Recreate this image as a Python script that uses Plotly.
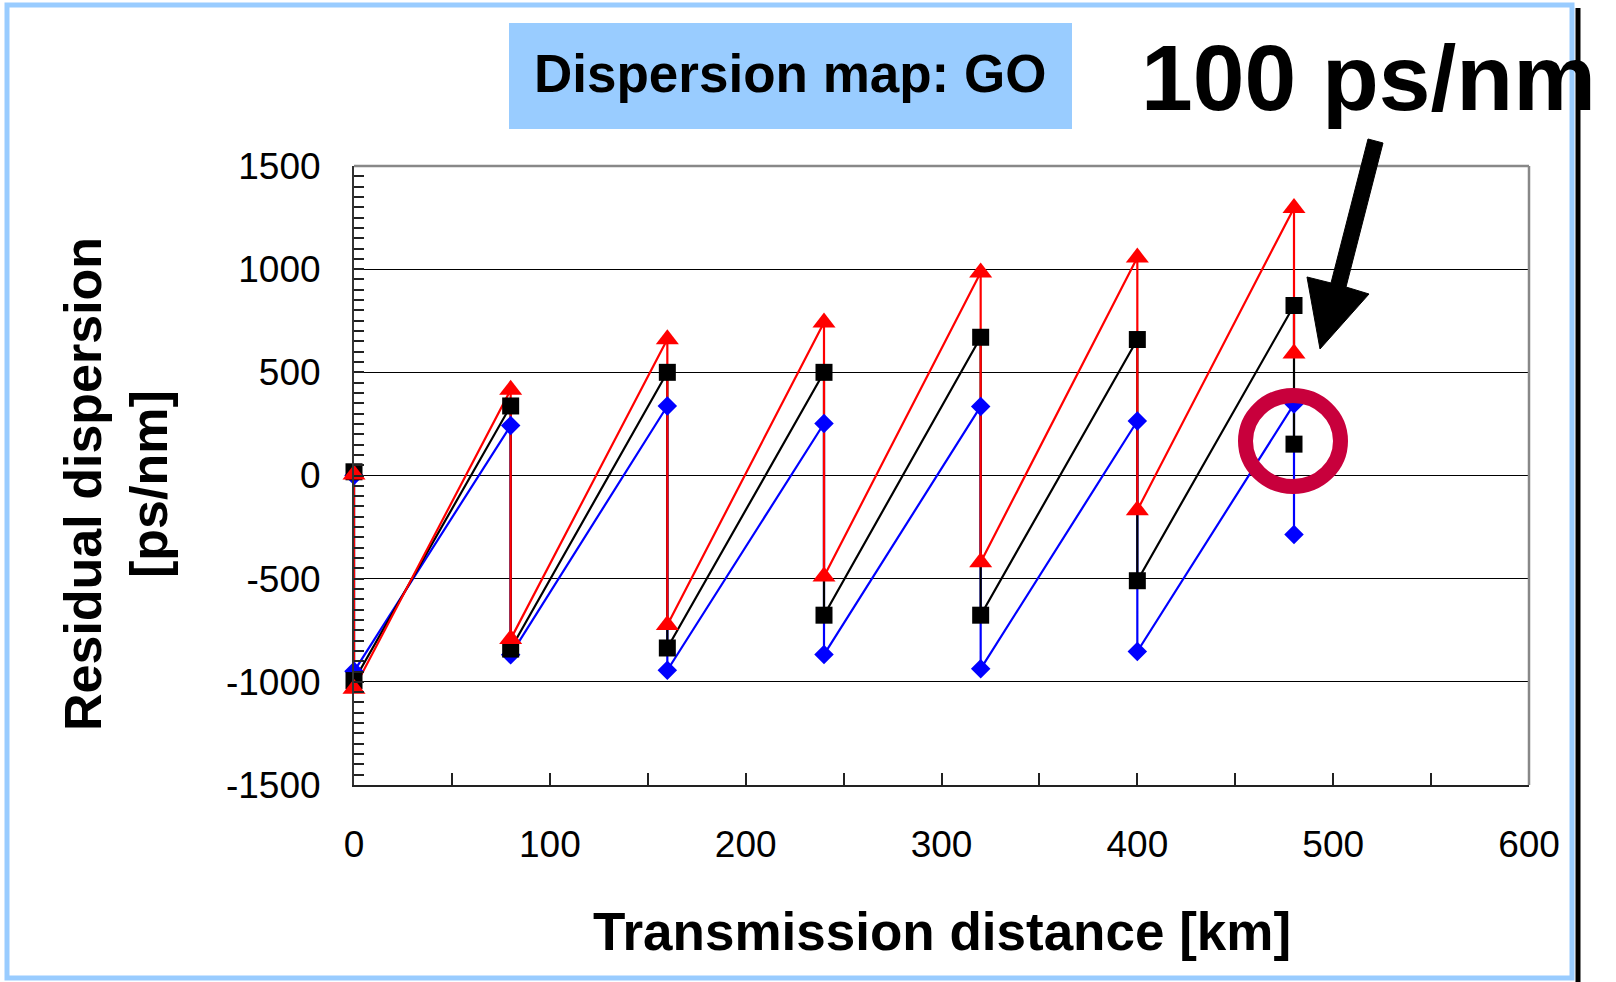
import plotly.graph_objects as go

# ---------------- data ----------------
distance_km = [0, 0, 80, 80, 160, 160, 240, 240, 320, 320, 400, 400, 480, 480]
red_series = [5, -1034, 415, -793, 660, -724, 741, -490, 984, -420, 1056, -168, 1297, 591]
black_series = [18, -994, 337, -841, 500, -836, 500, -677, 670, -677, 659, -510, 824, 152]
blue_series = [0, -949, 242, -869, 337, -944, 252, -868, 335, -937, 264, -853, 346, -286]

x_ticks = [0, 100, 200, 300, 400, 500, 600]
y_ticks = [-1500, -1000, -500, 0, 500, 1000, 1500]
y_tick_labels = [str(v) for v in y_ticks]

# ---------------- geometry ----------------
W, H = 1616, 982
L, R, T, B = 354, 87, 166, 197
PW, PH = W - L - R, H - T - B


def px(x):
    return (x - L) / PW


def py(y):
    return (H - B - y) / PH


FONT = "Liberation Sans, Arial, Helvetica, sans-serif"

series = [
    (blue_series, "#0000FF", "diamond", 15),
    (black_series, "#000000", "square", 17),
    (red_series, "#FF0000", "triangle-up", 20),
]

fig = go.Figure()
# lines first
for ys, col, sym, sz in series:
    fig.add_trace(go.Scatter(x=distance_km, y=ys, mode="lines",
                             line=dict(color=col, width=2.2),
                             showlegend=False, hoverinfo="skip", cliponaxis=False))
# markers on top
for ys, col, sym, sz in series:
    fig.add_trace(go.Scatter(x=distance_km, y=ys, mode="markers",
                             marker=dict(color=col, symbol=sym, size=sz, line=dict(width=0)),
                             showlegend=False, cliponaxis=False))

fig.update_layout(
    width=W, height=H,
    margin=dict(l=L, r=R, t=T, b=B, autoexpand=False),
    paper_bgcolor="white", plot_bgcolor="white",
    template="none",
    font=dict(family=FONT, color="black"),
    showlegend=False,
)

fig.update_xaxes(
    range=[0, 600], tickvals=x_ticks, ticktext=[str(v) for v in x_ticks],
    showgrid=False, zeroline=False,
    showline=True, linecolor="#222222", linewidth=2,
    ticks="inside", ticklen=12, tickwidth=1.5, tickcolor="#222222",
    minor=dict(ticks="inside", dtick=50, ticklen=12, tickwidth=1.5, tickcolor="#222222"),
    tickfont=dict(family=FONT, size=37, color="black"),
    ticklabelstandoff=26, automargin=False,
)
fig.update_yaxes(
    range=[-1500, 1500], tickvals=y_ticks, ticktext=y_tick_labels,
    showgrid=True, gridcolor="black", gridwidth=1,
    zeroline=False, showline=True, linecolor="#333333", linewidth=2,
    ticks="inside", ticklen=10, tickwidth=1.5, tickcolor="#222222",
    minor=dict(ticks="inside", dtick=50, ticklen=10, tickwidth=1.5, tickcolor="#222222", showgrid=False),
    tickfont=dict(family=FONT, size=37, color="black"),
    ticklabelstandoff=24, automargin=False,
)

shapes = [
    # title box
    dict(type="rect", xref="paper", yref="paper", x0=px(509), x1=px(1072), y0=py(129), y1=py(23),
         fillcolor="#99CCFF", line=dict(width=0), layer="below"),
    # plot frame top / right in grey
    dict(type="line", xref="paper", yref="paper", x0=0, x1=1, y0=1, y1=1,
         line=dict(color="#888888", width=2.5), layer="above"),
    dict(type="line", xref="paper", yref="paper", x0=1, x1=1, y0=0, y1=1,
         line=dict(color="#888888", width=2.5), layer="above"),
    # outer light-blue frame
    dict(type="rect", xref="paper", yref="paper", x0=px(7), x1=px(1572), y0=py(978), y1=py(5),
         line=dict(color="#99CCFF", width=5), fillcolor="rgba(0,0,0,0)", layer="above"),
    # black right edge line
    dict(type="line", xref="paper", yref="paper", x0=px(1578), x1=px(1578), y0=py(8), y1=py(985),
         line=dict(color="black", width=5), layer="above"),
    # red highlight ellipse
    dict(type="circle", xref="paper", yref="paper", x0=px(1245.5), x1=px(1340.5),
         y0=py(486.5), y1=py(395.5), line=dict(color="#C8003C", width=15), layer="above"),
]

arrow_pts = [(1368, 139), (1383, 143), (1346, 287), (1369, 294), (1320, 349), (1307, 277), (1331, 283)]
path = "M " + " L ".join(f"{px(a):.5f},{py(b):.5f}" for a, b in arrow_pts) + " Z"
shapes.append(dict(type="path", xref="paper", yref="paper", path=path,
                   fillcolor="black", line=dict(color="black", width=1), layer="above"))
fig.update_layout(shapes=shapes)

annotations = [
    dict(text="Dispersion map: GO", x=px(790), y=py(73), xref="paper", yref="paper",
         xanchor="center", yanchor="middle", showarrow=False,
         font=dict(family=FONT, size=53, color="black", weight="bold")),
    dict(text="100 ps/nm", x=px(1368), y=py(78), xref="paper", yref="paper",
         xanchor="center", yanchor="middle", showarrow=False,
         font=dict(family=FONT, size=93, color="black", weight="bold")),
    dict(text="Transmission distance [km]", x=px(942), y=py(931), xref="paper", yref="paper",
         xanchor="center", yanchor="middle", showarrow=False,
         font=dict(family=FONT, size=53, color="black", weight="bold")),
    dict(text="Residual dispersion", x=px(83), y=py(484), xref="paper", yref="paper",
         xanchor="center", yanchor="middle", showarrow=False, textangle=-90,
         font=dict(family=FONT, size=52, color="black", weight="bold")),
    dict(text="[ps/nm]", x=px(149), y=py(484), xref="paper", yref="paper",
         xanchor="center", yanchor="middle", showarrow=False, textangle=-90,
         font=dict(family=FONT, size=52, color="black", weight="bold")),
]
fig.update_layout(annotations=annotations)

fig.write_html(
    "out.html",
    config={"displayModeBar": False},
    post_script="document.body.style.margin='0';document.body.style.overflow='hidden';",
)
